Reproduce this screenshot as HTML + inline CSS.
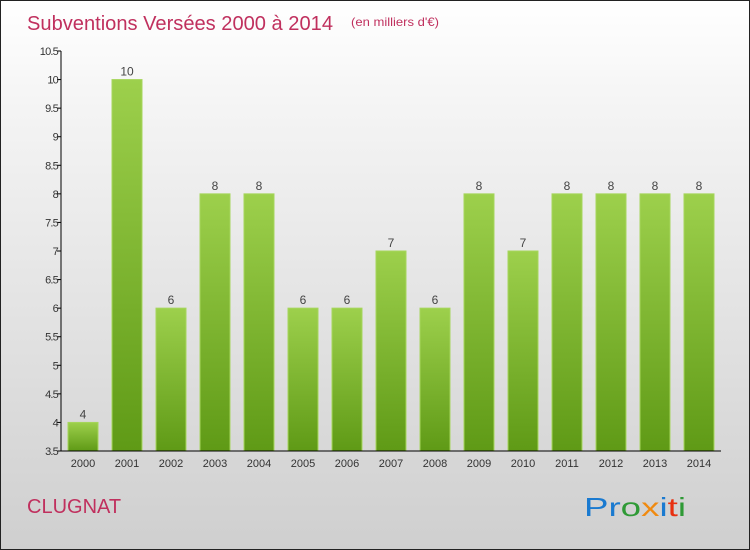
<!DOCTYPE html>
<html><head><meta charset="utf-8"><style>
body{margin:0}
#c{position:relative;width:748px;height:548px;border:1px solid #222;background:linear-gradient(#ffffff,#f4f4f4 20%,#cfcfcf);font-family:"Liberation Sans",sans-serif;overflow:hidden}
</style></head><body>
<div id="c">
<svg width="748" height="548" style="position:absolute;left:0;top:0" id="svg">
<defs><linearGradient id="g" x1="0" y1="0" x2="0" y2="1"><stop offset="0" stop-color="#9dd04c"/><stop offset="1" stop-color="#5f9a16"/></linearGradient></defs>
<text x="26" y="29" font-size="20" fill="#c0305e" textLength="306" lengthAdjust="spacingAndGlyphs">Subventions Versées 2000 à 2014</text>
<text x="350" y="25" font-size="12" fill="#c0305e" textLength="88" lengthAdjust="spacingAndGlyphs">(en milliers d'€)</text>
<text x="26" y="512" font-size="20" fill="#c0305e">CLUGNAT</text>
<text x="583" y="515" font-size="26" textLength="102" lengthAdjust="spacingAndGlyphs"><tspan fill="#1a7ad0">Pr</tspan><tspan fill="#2f9a36">o</tspan><tspan fill="#f08a10">x</tspan><tspan fill="#1a7ad0">i</tspan><tspan fill="#e83010">t</tspan><tspan fill="#2f9a36">i</tspan></text>
<g id="plot"></g>
</svg>
</div>
<script>
const years=["2000","2001","2002","2003","2004","2005","2006","2007","2008","2009","2010","2011","2012","2013","2014"];
const values=[4,10,6,8,8,6,6,7,6,8,7,8,8,8,8];
const ticks=[3.5,4,4.5,5,5.5,6,6.5,7,7.5,8,8.5,9,9.5,10,10.5];
const X0=60,SLOT=44,Y0=450,Y1=50,MIN=3.5,MAX=10.5;
const y=v=>Y0-(v-MIN)/(MAX-MIN)*(Y0-Y1);
const xc=i=>X0+SLOT*(i+0.5);
const ns="http://www.w3.org/2000/svg",g=document.getElementById('plot');
function mk(t,a,txt){const e=document.createElementNS(ns,t);for(const k in a)e.setAttribute(k,a[k]);if(txt!=null)e.textContent=txt;g.appendChild(e);return e;}
values.forEach((v,i)=>{
 const b=mk('rect',{x:xc(i)-15,y:y(v),width:30,height:Y0-y(v),fill:'url(#g)',stroke:'#a6d65c','stroke-width':1});
 
 
 const l=mk('text',{x:xc(i),y:y(v)-4,'text-anchor':'middle','font-size':12,fill:'#444'},String(v));
 
 
 const xl=mk('text',{x:xc(i),y:Y0+16,'text-anchor':'middle','font-size':11,fill:'#333'},years[i]);
 
 
});
ticks.forEach(t=>{
 const tl=mk('line',{x1:X0-4,x2:X0,y1:y(t),y2:y(t),stroke:'#000'});
 
 
 const tx=mk('text',{x:X0-3,y:y(t)+4,'text-anchor':'end','font-size':11,fill:'#333','letter-spacing':'-0.8'},String(t));
 
 
});
const ya=mk('line',{x1:X0,x2:X0,y1:Y1,y2:Y0,stroke:'#000'});


const xa=mk('line',{x1:X0,x2:X0+SLOT*15,y1:Y0,y2:Y0,stroke:'#000'});


</script>
</body></html>
